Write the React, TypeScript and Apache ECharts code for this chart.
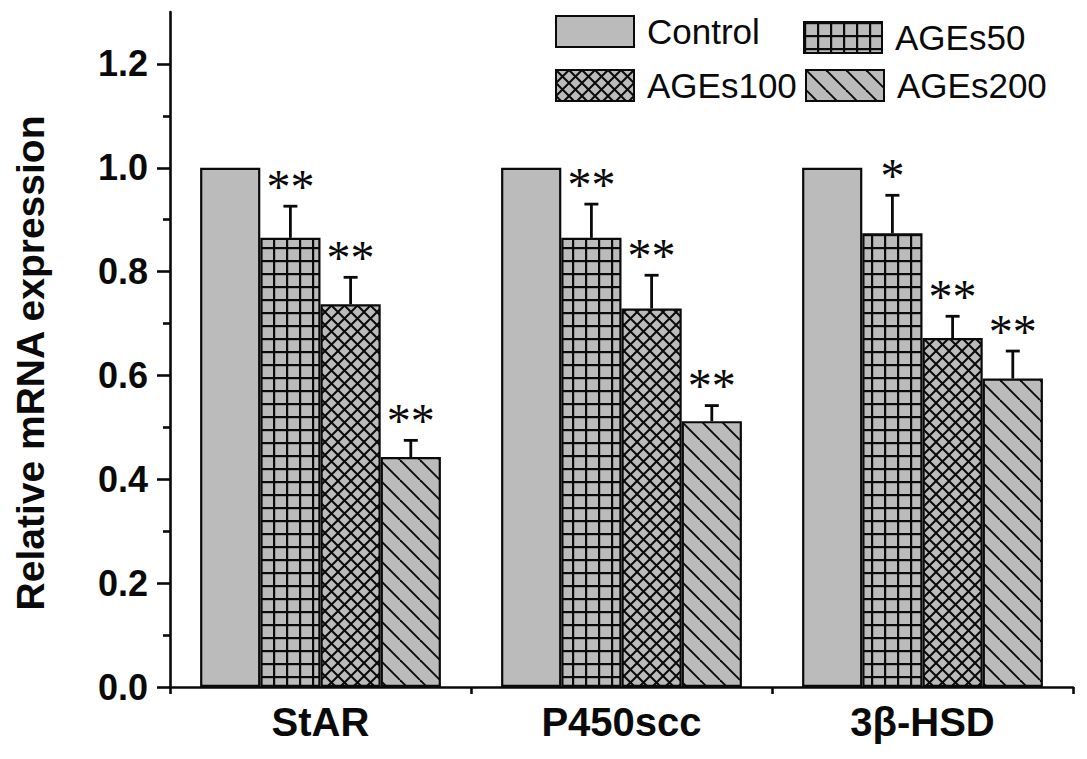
import * as echarts from "echarts";
import { useEffect, useRef } from "react";

const categories = ["StAR", "P450scc", "3β-HSD"];
const control = [1, 1, 1];
const ages50 = [0.865, 0.865, 0.874];
const ages100 = [0.737, 0.729, 0.672];
const ages200 = [0.443, 0.512, 0.594];
const ages50Err = [0.061, 0.065, 0.073];
const ages100Err = [0.052, 0.064, 0.042];
const ages200Err = [0.032, 0.03, 0.053];
const ages50Sig = ["**", "**", "*"];
const ages100Sig = ["**", "**", "**"];
const ages200Sig = ["**", "**", "**"];
const yTicks = [0, 0.2, 0.4, 0.6, 0.8, 1.0, 1.2];
const yMinorTicks = [0.1, 0.3, 0.5, 0.7, 0.9, 1.1];

const FONT = "Liberation Sans, Arial, sans-serif";
const GRAY = "#bbbbbb";
const INK = "#0a0a0a";

// canvas tiles used as fill patterns for the bars and legend icons
function makePattern(kind: string) {
  const size = kind === "diag" ? 20 : 13;
  const c = document.createElement("canvas");
  c.width = size;
  c.height = size;
  const ctx = c.getContext("2d")!;
  ctx.fillStyle = GRAY;
  ctx.fillRect(0, 0, size, size);
  ctx.fillStyle = INK;
  ctx.strokeStyle = INK;
  if (kind === "grid") {
    ctx.fillRect(0, 0, 2.2, size);
    ctx.fillRect(0, 0, size, 2.2);
  } else {
    ctx.lineWidth = kind === "cross" ? 2 : 1.9;
    for (const x0 of [-size, 0, size]) {
      ctx.beginPath();
      ctx.moveTo(x0, 0);
      ctx.lineTo(x0 + size, size);
      ctx.stroke();
      if (kind === "cross") {
        ctx.beginPath();
        ctx.moveTo(x0 + size, 0);
        ctx.lineTo(x0, size);
        ctx.stroke();
      }
    }
  }
  return { image: c, repeat: "repeat", imageWidth: size, imageHeight: size };
}

const errorSeries = (vals: number[], errs: number[], sigs: string[], slot: number) => ({
  type: "custom",
  xAxisIndex: 0,
  yAxisIndex: 0,
  z: 5,
  silent: true,
  data: vals.map((v, i) => [i, v, v + errs[i]]),
  renderItem: (params: any, api: any) => {
    const base = api.coord([api.value(0), api.value(1)]);
    const top = api.coord([api.value(0), api.value(2)]);
    const cw = api.size([1, 0])[0];
    const x = base[0] + (slot - 1.5) * 0.2 * cw;
    const sig = sigs[params.dataIndex];
    return {
      type: "group",
      children: [
        { type: "line", shape: { x1: x, y1: base[1], x2: x, y2: top[1] }, style: { stroke: INK, lineWidth: 2.8 } },
        { type: "line", shape: { x1: x - 7, y1: top[1], x2: x + 7, y2: top[1] }, style: { stroke: INK, lineWidth: 2.8 } },
        {
          type: "text",
          x,
          y: top[1] - 20,
          style: {
            text: sig,
            fontFamily: "Liberation Serif, Times New Roman, serif",
            fontSize: 48,
            fill: INK,
            align: "center",
            verticalAlign: "middle",
          },
        },
      ],
    };
  },
});

export default function App() {
  const chartRef = useRef<HTMLDivElement | null>(null);

  useEffect(() => {
    if (!chartRef.current) return;
    const chart = echarts.init(chartRef.current, undefined, { renderer: "svg" });

    const barStyle = (color: any) => ({ color, borderColor: INK, borderWidth: 2.2 });
    const legendBase = {
      padding: 0,
      icon: "rect",
      itemWidth: 78,
      itemHeight: 31,
      selectedMode: false,
      textStyle: { fontSize: 35, fontFamily: FONT, color: INK, padding: [0, 0, 0, 8] },
    };

    chart.setOption({
      animation: false,
      backgroundColor: "#ffffff",
      grid: { left: 170, right: 14, top: 12, bottom: 72, containLabel: false, outerBoundsMode: "none" },
      legend: [
        { ...legendBase, data: ["Control"], left: 555, top: 14 },
        { ...legendBase, data: ["AGEs50"], left: 803, top: 20 },
        { ...legendBase, data: ["AGEs100"], left: 555, top: 68 },
        { ...legendBase, data: ["AGEs200"], left: 805, top: 68 },
      ],
      xAxis: [
        {
          type: "category",
          data: categories,
          axisLine: { onZero: false, lineStyle: { color: INK, width: 2.6 } },
          axisTick: { alignWithLabel: true, length: 13, lineStyle: { color: INK, width: 2.6 } },
          axisLabel: { fontSize: 40, fontWeight: "bold", fontFamily: FONT, color: INK, margin: 15 },
          splitLine: { show: false },
        },
        {
          type: "value",
          min: 0,
          max: 3,
          interval: 1,
          position: "bottom",
          axisLine: { show: false, onZero: false },
          axisTick: { show: true, length: 7, lineStyle: { color: INK, width: 2.6 } },
          axisLabel: { show: false },
          splitLine: { show: false },
        },
      ],
      yAxis: [
        {
          type: "value",
          min: 0,
          max: 1.3,
          interval: 0.2,
          name: "Relative mRNA expression",
          nameLocation: "middle",
          nameGap: 120,
          nameTextStyle: { fontSize: 39, fontWeight: "bold", fontFamily: FONT, color: INK, padding: [0, 27, 0, 0] },
          axisLine: { show: true, onZero: false, lineStyle: { color: INK, width: 2.6 } },
          axisTick: { show: true, length: 13, customValues: yTicks, lineStyle: { color: INK, width: 2.6 } },
          axisLabel: {
            fontSize: 36,
            fontWeight: "bold",
            fontFamily: FONT,
            color: INK,
            margin: 22,
            customValues: yTicks,
            formatter: (v: number) => v.toFixed(1),
          },
          splitLine: { show: false },
        },
        {
          type: "value",
          min: 0,
          max: 1.3,
          interval: 0.2,
          position: "left",
          axisLine: { show: false, onZero: false },
          axisTick: { show: true, length: 7, customValues: yMinorTicks, lineStyle: { color: INK, width: 2.6 } },
          axisLabel: { show: false },
          splitLine: { show: false },
        },
      ],
      series: [
        { type: "bar", name: "Control", data: control, barGap: "0%", barCategoryGap: "20%", itemStyle: barStyle(GRAY) },
        { type: "bar", name: "AGEs50", data: ages50, barGap: "0%", barCategoryGap: "20%", itemStyle: barStyle(makePattern("grid")) },
        { type: "bar", name: "AGEs100", data: ages100, barGap: "0%", barCategoryGap: "20%", itemStyle: barStyle(makePattern("cross")) },
        { type: "bar", name: "AGEs200", data: ages200, barGap: "0%", barCategoryGap: "20%", itemStyle: barStyle(makePattern("diag")) },
        errorSeries(ages50, ages50Err, ages50Sig, 1),
        errorSeries(ages100, ages100Err, ages100Sig, 2),
        errorSeries(ages200, ages200Err, ages200Sig, 3),
      ],
    });

    return () => chart.dispose();
  }, []);

  return <div ref={chartRef} style={{ position: "absolute", left: 0, top: 0, width: 1087, height: 759 }} />;
}
